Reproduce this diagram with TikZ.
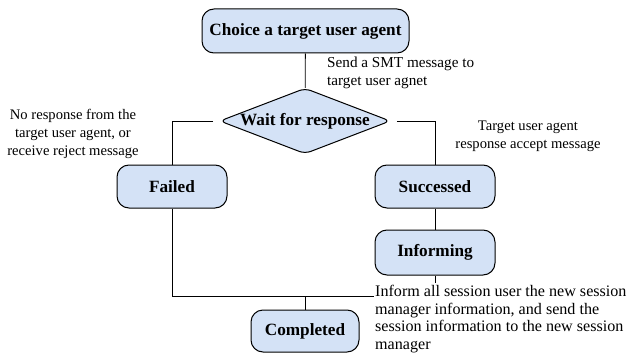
\documentclass[tikz,border=0pt]{standalone}
\usepackage{fontspec}
\setmainfont{Liberation Serif}
\usetikzlibrary{positioning,shapes.geometric}

\definecolor{stateblue}{RGB}{212,226,246}

\tikzset{
  state/.style={draw=black, line width=1pt, fill=stateblue, rounded corners=12pt,
    font=\fontsize{17.2}{19}\selectfont\bfseries, inner sep=0pt},
  decide/.style={diamond, draw=black, line width=1pt, fill=stateblue, rounded corners=6pt,
    font=\fontsize{17.2}{19}\selectfont\bfseries, inner sep=0pt, aspect=2.6,
    minimum width=162pt, minimum height=64pt},
  note/.style={font=\fontsize{14.6}{18}\selectfont, inner sep=0pt},
  widenote/.style={inner sep=0pt, align=left},
  link/.style={line width=0.8pt}
}

\begin{document}
\begin{tikzpicture}[x=1pt,y=-1pt]
\useasboundingbox (0,0) rectangle (629,353);

% states
\node[state, minimum width=207pt, minimum height=44pt] (choice) at (305.5,31) {Choice a target user agent};
\node[decide] (wait) at (305,121) {Wait for response};
\node[state, minimum width=110pt, minimum height=43pt] (failed) at (172,186.5) {Failed};
\node[state, minimum width=120pt, minimum height=43pt] (succ) at (435,186.5) {Successed};
\node[state, minimum width=120pt, minimum height=45pt] (inform) at (435,252.5) {Informing};
\node[state, minimum width=108pt, minimum height=42pt] (done) at (305,331) {Completed};

% notes
\node[widenote, font=\fontsize{15.2}{17.5}\selectfont, anchor=west] (sendnote) at (327,73) {Send a SMT message to\\target user agnet};
\node[note, align=center] (failnote) at (73,134) {No response from the\\target user agent, or\\receive reject message};
\node[note, align=center] (succnote) at (528,136) {Target user agent\\response accept message};
\node[widenote, font=\fontsize{16.1}{17.8}\selectfont, anchor=west] (informnote) at (375,319) {Inform all session user the new session\\manager information, and send the\\session information to the new session\\manager};

\coordinate (meet) at (374,296.5);
\coordinate (stub) at (435,283);

% connectors
\draw[link] (choice) -- (wait);
\draw[link, shorten <=6pt] (wait.west) -| (failed.north);
\draw[link, shorten <=6pt] (wait.east) -| (succ.north);
\draw[link] (succ) -- (inform);
\draw[link] (inform.south) -- (stub);
\draw[link] (failed.south) |- (meet);
\draw[link] (done.north) -- (done.north |- meet);
\end{tikzpicture}
\end{document}
